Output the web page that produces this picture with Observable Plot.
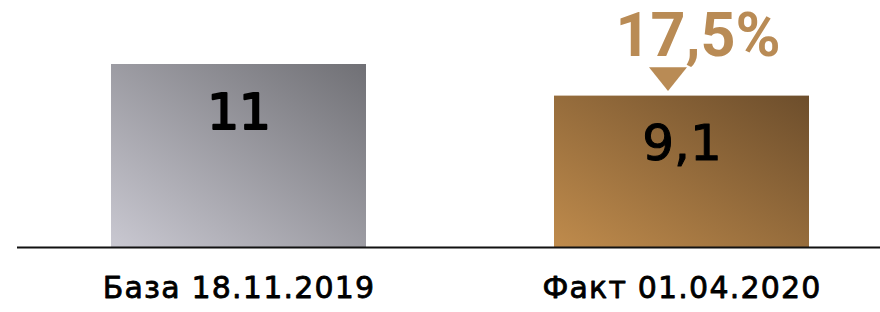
<!DOCTYPE html>
<html>
<head>
<meta charset="utf-8">
<script src="https://cdn.jsdelivr.net/npm/d3@7"></script>
<script src="https://cdn.jsdelivr.net/npm/@observablehq/plot@0.6"></script>
<style>
  html, body { margin: 0; padding: 0; background: #ffffff; }
</style>
</head>
<body>
<div id="chart"></div>
<script>
const categories = ["База 18.11.2019", "Факт 01.04.2020"];
const values = [11, 9.1];
const valueLabels = ["11", "9,1"];
const changeCategory = "Факт 01.04.2020";
const changeValue = 9.1;
const changeLabel = "17,5%";

const data = categories.map((c, i) => ({cat: c, value: values[i], label: valueLabels[i]}));
const changeData = [{cat: changeCategory, value: changeValue, label: changeLabel}];

const flatTriangle = {
  draw(context, size) {
    const r = Math.sqrt(size / Math.PI);
    const h = r * 0.63;
    context.moveTo(-r, -h);
    context.lineTo(r, -h);
    context.lineTo(0, h);
    context.closePath();
  }
};

const plot = Plot.plot({
  width: 880,
  height: 312,
  marginTop: 64,
  marginBottom: 65,
  marginLeft: 17,
  marginRight: 0,
  style: {fontFamily: "DejaVu Sans", background: "#ffffff", overflow: "visible"},
  x: {domain: categories, range: [111, 809], paddingInner: 0.425, paddingOuter: 0, axis: null},
  y: {domain: [0, 11], axis: null},
  marks: [
    Plot.barY([data[0]], {x: "cat", y: "value", fill: "url(#gBase)", inset: 0}),
    Plot.barY([data[1]], {x: "cat", y: "value", fill: "url(#gFact)", inset: 0}),
    Plot.ruleY([0], {stroke: "#111111", strokeWidth: 2}),
    Plot.text([data[0]], {x: "cat", y: "value", text: "label", dy: 48, fontSize: 50, fill: "#000000", stroke: "#000000", strokeWidth: 2.2}),
    Plot.text([data[1]], {x: "cat", y: "value", text: "label", dy: 48, fontSize: 50, fill: "#000000", stroke: "#000000", strokeWidth: 1}),
    Plot.text(changeData, {x: "cat", y: "value", text: "label", dx: 16, dy: -60, fontSize: 61, fontWeight: "bold", fontFamily: "Roboto", fill: "#b98b55"}),
    Plot.dot(changeData, {x: "cat", y: "value", dx: -14, dy: -17, r: 19, symbol: flatTriangle, fill: "#b98b55", stroke: "none"}),
    Plot.text(data, {x: "cat", text: "cat", frameAnchor: "bottom", dy: 50, fontSize: 30, fill: "#000000", stroke: "#000000", strokeWidth: 0.8})
  ]
});

const defs = d3.select(plot).insert("defs", ":first-child");
const g1 = defs.append("linearGradient").attr("id", "gBase").attr("x1", 0).attr("y1", 1).attr("x2", 1).attr("y2", 0);
g1.append("stop").attr("offset", "0%").attr("stop-color", "#c9c8d1");
g1.append("stop").attr("offset", "100%").attr("stop-color", "#707075");
const g2 = defs.append("linearGradient").attr("id", "gFact").attr("x1", 0).attr("y1", 1).attr("x2", 1).attr("y2", 0);
g2.append("stop").attr("offset", "0%").attr("stop-color", "#bf8b4c");
g2.append("stop").attr("offset", "100%").attr("stop-color", "#6d4e2c");

d3.select(plot).selectAll("text")
  .filter(function() { return categories.includes(this.textContent); })
  .style("letter-spacing", "1.2px");

document.getElementById("chart").appendChild(plot);
</script>
</body>
</html>
